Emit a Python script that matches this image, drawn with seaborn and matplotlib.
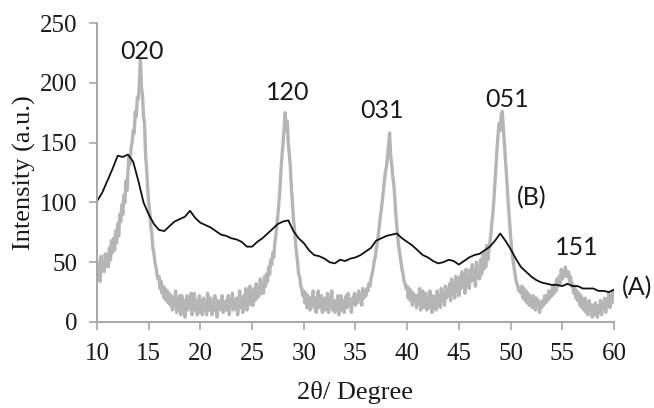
import numpy as np
import pandas as pd
import matplotlib
matplotlib.use("Agg")
import matplotlib.pyplot as plt
import seaborn as sns

# ---- data ----
# Curve (A): black, 0.5 degree step from 10 to 60
a_x = [10.0 + 0.5 * i for i in range(101)]
a_y = [101, 108, 118, 128, 139, 138, 140, 134, 118, 100,
       90, 82, 77, 76, 80, 84, 86, 88, 93, 87,
       83, 81, 79, 76, 73, 72, 70, 69, 67, 63,
       63, 67, 70, 74, 78, 82, 84, 85, 76, 70,
       66, 60, 56, 55, 53, 50, 49, 52, 51, 53,
       54, 56, 59, 62, 68, 70, 72, 73, 74, 70,
       67, 64, 60, 56, 54, 51, 49, 50, 52, 51,
       48, 51, 54, 56, 57, 60, 63, 68, 74, 68,
       61, 53, 46, 42, 38, 35, 33, 32, 31, 31,
       30, 32, 30, 30, 28, 28, 28, 26, 26, 25,
       27]

# Curve (B): grey, 0.1 degree step from 10 to 60
b_x = [round(10.0 + 0.1 * i, 1) for i in range(501)]
b_y = [52, 40, 48, 34, 55, 44, 50, 42, 57, 47,
       56, 46, 62, 52, 68, 58, 70, 60, 76, 66,
       82, 72, 90, 84, 98, 90, 106, 100, 118, 110,
       126, 138, 132, 146, 150, 160, 158, 176, 172, 188,
       186, 200, 220, 196, 190, 172, 166, 140, 128, 112,
       100, 92, 80, 74, 62, 58, 50, 46, 40, 36,
       38, 28, 34, 24, 30, 20, 28, 18, 26, 16,
       24, 14, 22, 10, 20, 14, 26, 8, 18, 14,
       22, 6, 22, 12, 18, 4, 16, 22, 10, 18,
       12, 24, 6, 16, 24, 10, 18, 6, 14, 22,
       8, 18, 6, 20, 12, 16, 6, 24, 10, 14,
       20, 6, 16, 10, 22, 12, 4, 18, 10, 16,
       12, 22, 8, 16, 10, 18, 10, 22, 6, 16,
       14, 24, 10, 18, 12, 20, 6, 16, 26, 12,
       18, 8, 22, 14, 28, 10, 20, 16, 30, 14,
       22, 14, 28, 18, 32, 20, 28, 22, 36, 24,
       32, 24, 38, 30, 40, 34, 46, 40, 52, 48,
       58, 54, 66, 72, 82, 90, 100, 112, 128, 140,
       150, 162, 175, 160, 168, 150, 140, 130, 112, 100,
       86, 78, 66, 58, 50, 40, 38, 30, 28, 22,
       26, 16, 24, 12, 22, 18, 10, 20, 16, 26,
       12, 20, 8, 18, 26, 12, 16, 22, 8, 18,
       20, 10, 16, 24, 8, 18, 14, 26, 10, 16,
       8, 18, 14, 22, 6, 16, 22, 10, 18, 8,
       16, 22, 12, 24, 14, 18, 8, 20, 16, 24,
       14, 22, 16, 26, 18, 22, 14, 28, 20, 26,
       22, 28, 26, 32, 30, 36, 40, 44, 50, 54,
       60, 66, 72, 80, 88, 94, 102, 110, 118, 126,
       130, 138, 148, 158, 140, 132, 122, 116, 104, 90,
       80, 70, 62, 56, 50, 44, 40, 34, 32, 28,
       30, 20, 28, 18, 26, 14, 24, 18, 22, 12,
       22, 16, 28, 10, 20, 26, 12, 18, 24, 10,
       20, 12, 26, 18, 8, 22, 16, 20, 10, 26,
       16, 22, 12, 28, 18, 24, 14, 30, 20, 26,
       22, 32, 18, 36, 24, 28, 20, 38, 26, 32,
       22, 38, 28, 42, 30, 34, 24, 44, 32, 38,
       28, 44, 34, 48, 36, 40, 30, 50, 38, 44,
       36, 52, 40, 56, 44, 58, 46, 64, 52, 60,
       66, 74, 84, 92, 104, 118, 132, 146, 158, 166,
       160, 174, 176, 162, 150, 136, 124, 110, 96, 84,
       72, 62, 54, 48, 42, 36, 32, 30, 26, 28,
       24, 30, 20, 28, 18, 26, 16, 24, 14, 22,
       20, 12, 22, 16, 10, 20, 14, 18, 8, 16,
       12, 18, 14, 22, 16, 22, 18, 26, 20, 26,
       22, 30, 24, 32, 26, 36, 30, 38, 32, 44,
       36, 42, 38, 46, 40, 38, 42, 34, 38, 30,
       32, 24, 30, 20, 26, 18, 24, 14, 22, 12,
       18, 10, 20, 8, 16, 6, 18, 12, 14, 4,
       14, 6, 16, 10, 4, 14, 8, 18, 6, 16,
       12, 20, 8, 18, 14, 24, 12, 20, 16, 26,
       20]

peak_labels = ["020", "120", "031", "051", "151"]
peak_label_x = [14.4, 28.4, 37.6, 49.7, 56.4]
peak_label_y = [226, 192, 177, 186, 62]
x_ticks = [10, 15, 20, 25, 30, 35, 40, 45, 50, 55, 60]
y_ticks = [0, 50, 100, 150, 200, 250]

df_a = pd.DataFrame({"x": a_x, "y": a_y})
df_b = pd.DataFrame({"x": b_x, "y": b_y})

sns.set_theme(style="white")
plt.rcParams["font.family"] = ["Liberation Serif", "DejaVu Serif"]

fig = plt.figure(figsize=(6.54, 4.08), dpi=100)
ax = fig.add_axes([0.1483, 0.2108, 0.7905, 0.7328])

sns.lineplot(data=df_b, x="x", y="y", ax=ax, color="#b5b5b5", linewidth=2.4,
             estimator=None, sort=False)
sns.lineplot(data=df_a, x="x", y="y", ax=ax, color="#111111", linewidth=1.3,
             estimator=None, sort=False)

ax.set_xlim(10, 60)
ax.set_ylim(0, 250)
ax.set_xticks(x_ticks)
ax.set_yticks(y_ticks)
ax.tick_params(axis="both", direction="out", length=6, width=1.2, color="#a6a6a6",
               labelsize=18, labelcolor="#1a1a1a", bottom=True, left=True)
ax.tick_params(axis="x", pad=9)
ax.tick_params(axis="y", pad=8)

for s in ["top", "right"]:
    ax.spines[s].set_visible(False)
for s in ["left", "bottom"]:
    ax.spines[s].set_color("#a6a6a6")
    ax.spines[s].set_linewidth(1.4)

ax.set_xlabel("2θ/ Degree", fontsize=19, color="#1a1a1a", labelpad=12)
ax.set_ylabel("Intensity (a.u.)", fontsize=19, color="#1a1a1a", labelpad=3)

sans = ["Lato", "DejaVu Sans"]
for t, xx, yy in zip(peak_labels, peak_label_x, peak_label_y):
    ax.text(xx, yy, t, fontsize=18, family=sans, color="#1a1a1a",
            ha="center", va="center")
ax.text(52.0, 104, "(B)", fontsize=18, family=sans, color="#1a1a1a",
        ha="center", va="center")
ax.text(62.2, 29, "(A)", fontsize=18, family=sans, color="#1a1a1a",
        ha="center", va="center", clip_on=False)

fig.savefig("out.png", dpi=100)
